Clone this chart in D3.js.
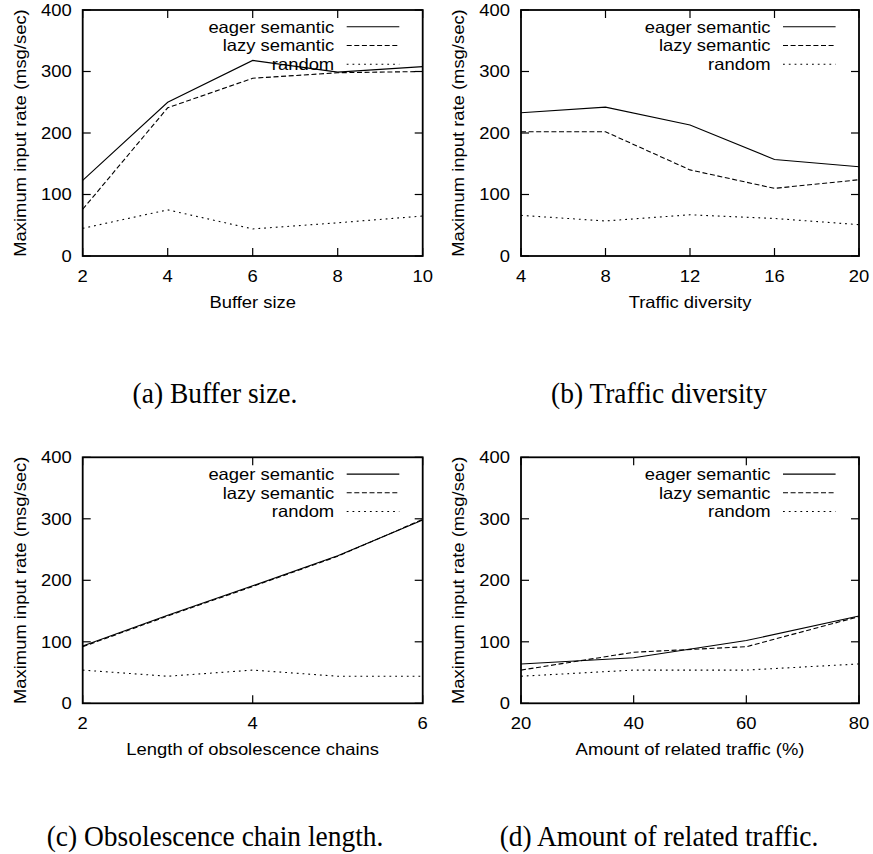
<!DOCTYPE html>
<html><head><meta charset="utf-8">
<script src="https://cdn.jsdelivr.net/npm/d3@7"></script>
<style>html,body{margin:0;padding:0;background:#fff;}</style>
</head><body>
<script>
// ---- data ----
const seriesNames = ["eager semantic", "lazy semantic", "random"];
const yTicks = [0, 100, 200, 300, 400];

const bufferSize = [2, 4, 6, 8, 10];
const bufEager = [123, 250, 318, 299, 308];
const bufLazy = [76, 241, 289, 298, 300];
const bufRandom = [45, 75, 44, 54, 65];
const bufTicks = [2, 4, 6, 8, 10];

const diversity = [4, 8, 12, 16, 20];
const divEager = [233, 242, 213, 157, 145];
const divLazy = [202, 202, 140, 110, 124];
const divRandom = [66, 57, 67, 61, 51];
const divTicks = [4, 8, 12, 16, 20];

const chainLen = [2, 3, 4, 5, 6];
const chainEager = [93, 143, 191, 240, 298];
const chainLazy = [92, 142, 190, 239, 299];
const chainRandom = [54, 44, 54, 44, 44];
const chainTicks = [2, 4, 6];

const related = [20, 40, 60, 80];
const relEager = [64, 74, 102, 142];
const relLazy = [54, 83, 92, 141];
const relRandom = [44, 54, 54, 64];
const relTicks = [20, 40, 60, 80];

const xLabels = ["Buffer size", "Traffic diversity", "Length of obsolescence chains", "Amount of related traffic (%)"];
const captions = ["(a) Buffer size.", "(b) Traffic diversity", "(c) Obsolescence chain length.", "(d) Amount of related traffic."];
const yLabel = "Maximum input rate (msg/sec)";

// ---- build ----
const panelsData = [
  {x: bufferSize, ys: [bufEager, bufLazy, bufRandom], ticks: bufTicks},
  {x: diversity, ys: [divEager, divLazy, divRandom], ticks: divTicks},
  {x: chainLen, ys: [chainEager, chainLazy, chainRandom], ticks: chainTicks},
  {x: related, ys: [relEager, relLazy, relRandom], ticks: relTicks}
];
const boxes = [
  {l: 82.7, t: 10, r: 422.7, b: 256},
  {l: 521, t: 10, r: 859, b: 256},
  {l: 82.7, t: 457.3, r: 422.7, b: 703.3},
  {l: 521, t: 457.3, r: 859, b: 703.3}
];
const capPos = [{x: 215, y: 403}, {x: 659, y: 403}, {x: 215, y: 846}, {x: 659, y: 846}];
const dashes = [null, "5,2.6", "1.8,4"];

const SANS = "'Liberation Sans', Arial, Helvetica, sans-serif";
const FS = 16.3, SX = 1.13;

const svg = d3.select("body").append("svg").attr("width", 873).attr("height", 854);
svg.append("rect").attr("width", 873).attr("height", 854).attr("fill", "#fff");

function sText(g, x, y, str, anchor, rot) {
  return g.append("text")
    .attr("transform", `translate(${x},${y})` + (rot ? ` rotate(${rot})` : "") + ` scale(${SX},1)`)
    .attr("text-anchor", anchor)
    .attr("font-family", SANS).attr("font-size", FS).attr("fill", "#000")
    .text(str);
}

panelsData.forEach((p, i) => {
  const bx = boxes[i];
  const g = svg.append("g");
  const x = d3.scaleLinear().domain(d3.extent(p.ticks)).range([bx.l, bx.r]);
  const y = d3.scaleLinear().domain([0, 400]).range([bx.b, bx.t]);
  const tl = 8;

  // ticks (inside, mirrored)
  yTicks.forEach(v => {
    g.append("line").attr("x1", bx.l).attr("x2", bx.l + tl).attr("y1", y(v)).attr("y2", y(v)).attr("stroke", "#000").attr("stroke-width", 1.2);
    g.append("line").attr("x1", bx.r).attr("x2", bx.r - tl).attr("y1", y(v)).attr("y2", y(v)).attr("stroke", "#000").attr("stroke-width", 1.2);
    sText(g, bx.l - 11, y(v) + 5.8, String(v), "end");
  });
  p.ticks.forEach(v => {
    g.append("line").attr("x1", x(v)).attr("x2", x(v)).attr("y1", bx.b).attr("y2", bx.b - tl).attr("stroke", "#000").attr("stroke-width", 1.2);
    g.append("line").attr("x1", x(v)).attr("x2", x(v)).attr("y1", bx.t).attr("y2", bx.t + tl).attr("stroke", "#000").attr("stroke-width", 1.2);
    sText(g, x(v), bx.b + 25.7, String(v), "middle");
  });

  // frame
  g.append("rect").attr("x", bx.l).attr("y", bx.t).attr("width", bx.r - bx.l).attr("height", bx.b - bx.t)
    .attr("fill", "none").attr("stroke", "#000").attr("stroke-width", 1.8);

  // axis labels
  sText(g, (bx.l + bx.r) / 2, bx.b + 52, xLabels[i], "middle");
  sText(g, bx.l - 57, (bx.t + bx.b) / 2, yLabel, "middle", -90);

  // legend
  seriesNames.forEach((name, k) => {
    const ly = bx.t + 16.8 + k * 18.7;
    sText(g, bx.r - 88.5, ly + 5.8, name, "end");
    g.append("line").attr("x1", bx.r - 76).attr("x2", bx.r - 23.4).attr("y1", ly).attr("y2", ly)
      .attr("stroke", "#000").attr("stroke-width", 1.1).attr("stroke-dasharray", dashes[k]);
  });

  // series
  const line = d3.line().x(d => x(d[0])).y(d => y(d[1]));
  p.ys.forEach((vals, k) => {
    g.append("path").datum(p.x.map((xv, j) => [xv, vals[j]]))
      .attr("d", line).attr("fill", "none").attr("stroke", "#000").attr("stroke-width", 1.1)
      .attr("stroke-dasharray", dashes[k]);
  });

  // caption
  svg.append("text")
    .attr("transform", `translate(${capPos[i].x},${capPos[i].y}) scale(0.9,1)`)
    .attr("text-anchor", "middle")
    .attr("font-family", "'Liberation Serif', 'Times New Roman', Times, serif")
    .attr("font-size", 30.5).attr("fill", "#000")
    .text(captions[i]);
});
</script>
</body></html>
